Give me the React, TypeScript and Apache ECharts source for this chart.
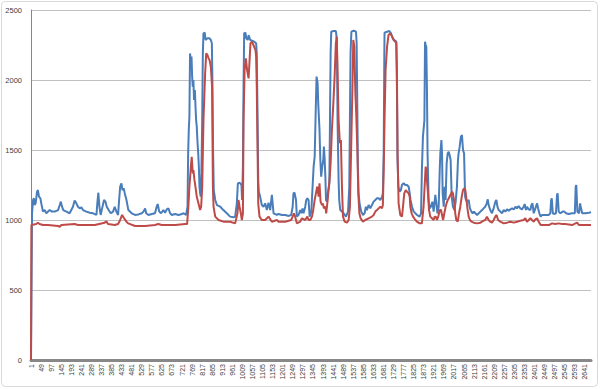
import React, { useEffect, useRef } from "react";
import * as echarts from "echarts";

const N = 2670;
const categories: string[] = Array.from({ length: N }, (_, i) => String(i + 1));
const yMin = 0;
const yMax = 2500;
const yStep = 500;

// [category index, value]
const blueSeries: [number, number][] = [
  [0,0],[5,1048],[10,1143],[14,1155],[17,1107],[22,1119],[29,1202],[33,1214],[38,1167],[45,1155],[49,1119],[57,1060],[65,1071],[73,1048],[81,1060],[89,1071],[100,1060],[113,1060],[129,1071],[137,1107],[142,1131],[148,1095],[154,1071],[169,1060],[184,1048],[200,1095],[208,1140],[216,1119],[224,1095],[232,1083],[240,1090],[248,1071],[264,1060],[280,1052],[296,1048],[312,1036],[316,1119],[321,1195],[326,1095],[332,1036],[339,1083],[348,1143],[355,1131],[361,1095],[370,1071],[380,1048],[391,1060],[399,1095],[407,1060],[415,1036],[420,1143],[425,1238],[431,1262],[436,1214],[442,1226],[447,1190],[455,1143],
  [464,1071],[480,1048],[496,1036],[512,1040],[528,1048],[536,1060],[544,1083],[549,1048],[560,1036],[576,1043],[591,1048],[599,1095],[604,1114],[611,1060],[620,1048],[631,1071],[639,1052],[647,1076],[655,1083],[663,1048],[671,1036],[687,1043],[703,1036],[719,1043],[727,1048],[739,1036],
  [746,1095],[749,1476],[752,1643],[755,1738],[758,2190],[762,2119],[765,2167],[768,2024],[771,1952],[774,2000],[777,1857],[781,1929],[784,1810],[787,1714],[790,1667],[793,1571],[797,1476],[800,1381],[803,1238],[806,1190],[809,1167],[812,1333],[816,1714],[819,2190],[822,2333],[828,2338],[832,2286],[841,2298],[851,2298],[857,2286],[862,2262],[865,1952],[868,1476],[871,1214],[878,1143],[886,1107],[902,1095],[917,1071],[933,1048],[949,1024],[965,1019],[973,1024],[981,1119],[986,1262],[994,1267],[1003,1250],[1006,1143],[1010,1381],[1013,1952],[1016,2333],[1022,2338],[1026,2298],[1033,2286],[1037,2321],[1045,2286],[1053,2281],[1064,2274],[1073,2262],[1076,2190],[1080,1714],[1083,1286],[1086,1202],[1092,1167],[1100,1107],[1108,1095],[1116,1119],[1124,1071],[1132,1124],[1140,1071],[1148,1179],[1156,1048],[1172,1036],
  [1180,1043],[1196,1036],[1212,1036],[1228,1029],[1240,1036],[1247,1095],[1251,1190],[1256,1195],[1263,1143],[1267,1024],[1275,1036],[1283,1071],[1288,1048],[1294,1083],[1299,1048],[1307,1095],[1312,1143],[1317,1155],[1323,1143],[1328,1024],[1336,1060],[1342,1238],[1347,1381],[1352,1452],[1356,1714],[1361,2024],[1366,1976],[1369,1833],[1372,1738],[1375,1643],[1379,1429],[1383,1310],[1388,1381],[1393,1429],[1396,1524],[1399,1452],[1403,1310],[1406,1143],[1410,1131],[1415,1190],[1422,1262],[1425,1714],[1428,2190],[1431,2345],[1442,2350],[1453,2350],[1458,2286],[1461,1714],[1466,1286],[1469,1143],[1474,1071],[1482,1060],[1490,1048],[1501,1024],[1511,1060],[1517,1238],[1520,1714],[1523,2190],[1527,2345],[1538,2352],[1549,2345],[1552,2262],[1555,1833],[1558,1381],[1561,1190],[1566,1119],[1574,1060],[1582,1036],[1590,1048],[1596,1095],[1601,1071],[1609,1107],[1617,1083],
  [1625,1107],[1633,1131],[1641,1143],[1649,1155],[1657,1155],[1665,1143],[1673,1167],[1677,1190],[1681,1476],[1684,2190],[1685,2338],[1697,2345],[1708,2350],[1716,2333],[1724,2298],[1731,2286],[1741,2274],[1744,1952],[1747,1429],[1751,1238],[1757,1202],[1763,1214],[1768,1250],[1776,1262],[1784,1250],[1792,1250],[1800,1238],[1805,1190],[1809,1143],[1816,1095],[1824,1060],[1840,1036],[1852,1024],[1859,1048],[1863,1357],[1868,1595],[1875,1714],[1878,2274],[1881,2250],[1884,2238],[1887,1952],[1890,1476],[1895,1143],[1900,1083],[1906,1095],[1913,1131],[1919,1060],[1927,1179],[1932,1119],[1937,1048],[1943,1095],[1948,1357],[1951,1476],[1956,1571],[1959,1476],[1962,1190],[1967,1095],[1972,1238],[1976,1143],[1981,1405],[1986,1476],[1991,1488],[1995,1464],[2000,1429],[2005,1167],[2011,1095],[2018,1071],[2024,1131],[2030,1238],[2035,1429],[2038,1476],[2043,1524],[2049,1595],[2054,1607],[2059,1500],[2064,1476],[2069,1167],[2073,1143],[2078,1131],[2086,1143],
  [2092,1083],[2099,1060],[2105,1048],[2111,1060],[2118,1048],[2126,1036],[2134,1048],[2142,1060],[2150,1071],[2157,1083],[2165,1095],[2172,1119],[2177,1148],[2181,1107],[2189,1071],[2197,1048],[2205,1083],[2213,1131],[2218,1143],[2223,1095],[2229,1071],[2237,1060],[2245,1048],[2253,1071],[2261,1060],[2269,1076],[2277,1067],[2285,1076],[2293,1083],[2301,1076],[2309,1095],[2316,1083],[2324,1100],[2332,1083],[2340,1076],[2348,1095],[2353,1114],[2359,1071],[2364,1095],[2372,1076],[2380,1071],[2385,1107],[2390,1119],[2396,1048],[2404,1083],[2412,1119],[2417,1083],[2423,1048],[2429,1024],[2436,1036],[2452,1036],[2468,1036],[2475,1048],[2479,1143],[2482,1155],[2487,1048],[2493,1043],[2502,1048],[2507,1179],[2510,1190],[2515,1060],[2523,1048],[2534,1060],[2542,1060],[2550,1048],[2563,1043],[2579,1048],[2592,1048],[2596,1238],[2599,1250],[2604,1060],[2612,1048],[2617,1119],[2620,1095],[2627,1048],[2642,1048],[2658,1052],[2669,1055]
];

const redSeries: [number, number][] = [
  [0,0],[2,964],[25,971],[33,981],[41,971],[57,964],[81,964],[129,957],[137,952],[145,964],[208,971],[224,964],[304,964],[351,981],[359,990],[367,971],[399,964],[415,971],[425,1000],[434,1036],[444,1012],[455,988],[463,976],
  [496,957],[544,957],[591,964],[607,971],[623,964],[687,964],[735,971],[744,971],
  [746,1012],[750,1095],[755,1238],[762,1381],[766,1452],[771,1333],[774,1357],[779,1286],[786,1214],[790,1167],[798,1119],[806,1071],[811,1095],[816,1238],[822,1714],[830,2048],[835,2190],[841,2179],[846,2155],[851,2143],[857,2095],[863,1952],[867,1238],[870,1095],[878,1024],[894,1000],[917,988],[949,988],[973,976],[984,1048],[989,1143],[994,1095],[1000,1048],[1005,1000],[1010,1048],[1013,1714],[1018,2071],[1024,2155],[1030,2071],[1037,2012],[1041,2119],[1046,2262],[1053,2274],[1060,2250],[1070,2214],[1073,2167],[1076,1952],[1080,1476],[1083,1119],[1089,1024],[1100,1000],[1116,1000],[1132,1024],[1148,988],[1172,1000],
  [1180,988],[1212,988],[1240,1000],[1247,1024],[1253,1048],[1259,1024],[1267,976],[1283,988],[1291,1012],[1307,1000],[1317,1024],[1323,1000],[1331,1000],[1339,1024],[1344,1060],[1352,1143],[1358,1190],[1364,1238],[1371,1167],[1375,1262],[1380,1131],[1387,1107],[1391,1119],[1396,1083],[1403,1095],[1407,1048],[1414,1143],[1418,1214],[1423,1286],[1428,1405],[1434,1643],[1441,1833],[1447,2024],[1453,2262],[1457,2310],[1460,2143],[1466,1714],[1472,1548],[1477,1571],[1482,1238],[1487,1024],[1495,988],[1506,981],[1514,1000],[1520,1095],[1527,1595],[1533,2024],[1536,2286],[1541,2238],[1546,1905],[1550,1762],[1555,1524],[1560,1190],[1565,1048],[1571,1012],[1582,988],[1593,1000],[1609,1012],[1625,1024],
  [1633,1036],[1641,1060],[1649,1071],[1657,1083],[1665,1095],[1673,1083],[1677,1107],[1681,1357],[1685,1714],[1690,2071],[1697,2238],[1704,2321],[1712,2333],[1720,2314],[1728,2286],[1736,2274],[1741,2262],[1744,2071],[1747,1476],[1752,1119],[1760,1036],[1768,1024],[1773,1095],[1779,1190],[1786,1214],[1792,1202],[1800,1190],[1805,1167],[1808,1095],[1814,1048],[1821,1024],[1832,1000],[1840,988],[1852,976],[1863,976],[1871,1095],[1876,1238],[1881,1381],[1884,1357],[1887,1286],[1892,1190],[1897,1071],[1903,1024],[1911,1012],[1919,1000],[1924,1024],[1929,1024],[1935,1000],[1941,1024],[1948,1071],[1954,1071],[1959,1036],[1964,1000],[1970,1048],[1976,1095],[1983,1131],[1991,1155],[1999,1179],[2007,1202],[2011,1190],[2016,1143],[2022,1048],[2027,1000],[2034,988],[2040,1048],[2046,1095],[2053,1167],[2059,1214],[2065,1226],[2070,1214],
  [2075,1155],[2080,1083],[2086,1024],[2092,1000],[2099,988],[2110,981],[2126,976],[2142,981],[2157,995],[2165,1000],[2173,1024],[2181,1000],[2189,988],[2197,981],[2205,1000],[2213,1024],[2219,1036],[2226,1000],[2237,988],[2253,976],[2269,981],[2285,988],[2301,981],[2316,988],[2332,995],[2348,1000],[2356,1012],[2364,988],[2372,1000],[2380,1012],[2388,1000],[2396,988],[2404,1005],[2412,1012],[2420,988],[2429,964],[2444,964],[2468,964],[2483,976],[2499,971],[2515,976],[2531,971],[2547,971],[2579,964],[2595,976],[2603,981],[2611,964],[2627,964],[2658,964],[2669,964]
];

export default function App() {
  const ref = useRef<HTMLDivElement>(null);
  useEffect(() => {
    const chart = echarts.init(ref.current!, null, { renderer: "svg" });
    chart.setOption({
      animation: false,
      backgroundColor: "#ffffff",
      grid: { left: 31, right: 9, top: 10, bottom: 29 },
      graphic: [
        {
          type: "rect",
          shape: { x: 1.5, y: 1.5, width: 596, height: 385, r: 4 },
          style: { fill: "none", stroke: "#d9d9d9", lineWidth: 1 },
          silent: true,
          z: -1,
        },
      ],
      xAxis: {
        type: "category",
        data: categories,
        boundaryGap: false,
        axisLine: { show: true, lineStyle: { color: "#888888", width: 3 } },
        axisTick: { show: false },
        splitLine: { show: false },
        axisLabel: {
          interval: 47,
          rotate: 90,
          fontSize: 7,
          fontFamily: "Liberation Sans, Arial, sans-serif",
          color: "#404040",
          margin: 4,
        },
      },
      yAxis: {
        type: "value",
        min: yMin,
        max: yMax,
        interval: yStep,
        axisLine: { show: true, lineStyle: { color: "#868686", width: 1 } },
        axisTick: { show: false },
        splitLine: { show: true, lineStyle: { color: "#c0c0c0", width: 1 } },
        axisLabel: {
          fontSize: 7.5,
          fontFamily: "Liberation Sans, Arial, sans-serif",
          color: "#404040",
          margin: 9,
          formatter: (v: number) => String(v),
        },
      },
      series: [
        {
          name: "Series1",
          type: "line",
          data: blueSeries,
          showSymbol: false,
          symbol: "none",
          lineStyle: { color: "#4a7ebb", width: 2 },
          itemStyle: { color: "#4a7ebb" },
        },
        {
          name: "Series2",
          type: "line",
          data: redSeries,
          showSymbol: false,
          symbol: "none",
          lineStyle: { color: "#be4b48", width: 2 },
          itemStyle: { color: "#be4b48" },
        },
      ],
    });
    return () => chart.dispose();
  }, []);
  return (
    <div
      ref={ref}
      style={{ position: "fixed", left: 0, top: 0, width: 600, height: 389, background: "#fff" }}
    />
  );
}
